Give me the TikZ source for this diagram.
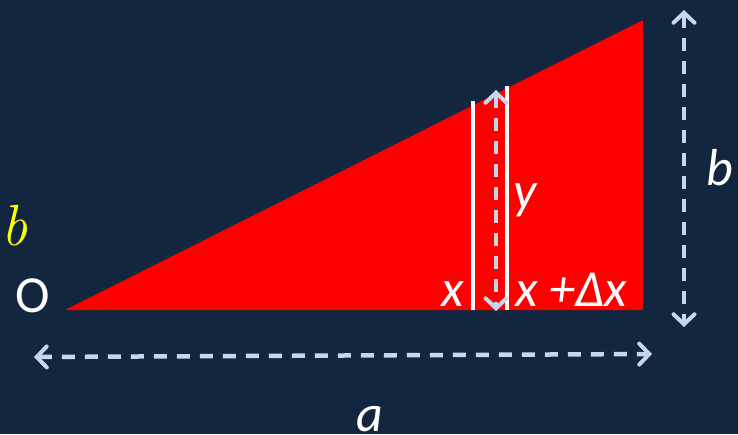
\documentclass[tikz,border=0pt]{standalone}
\usepackage{fontspec}
\newfontfamily\lblfont{Carlito}
\usetikzlibrary{arrows.meta}
\definecolor{bg}{HTML}{13263F}
\definecolor{dimc}{HTML}{C6D6EE}
\definecolor{tri}{HTML}{FF0000}
\definecolor{yel}{HTML}{FFFF00}
\tikzset{
  dimtip/.tip={Straight Barb[length=10pt,width=21pt,line width=4pt,line cap=round]},
  dimarrow/.style={draw=dimc, line width=4.5pt, dash pattern=on 13pt off 10pt, dimtip-dimtip},
  lbl/.style={text=white, inner sep=0pt, font=\fontsize{52}{54}\selectfont\lblfont\itshape},
  stripline/.style={draw=white, line width=3.5pt}
}
\begin{document}
\begin{tikzpicture}[x=1pt,y=-1pt]
\useasboundingbox (0,0) rectangle (738,434);
\fill[bg] (0,0) rectangle (738,434);
% triangle
\coordinate (O) at (65,310);
\coordinate (T) at (643,20);
\coordinate (R) at (643,310);
\fill[tri, rounded corners=2pt] (O) -- (T) -- (R) -- cycle;
% strip lines
\coordinate (l1t) at (473,101);
\coordinate (l1b) at (473,310);
\coordinate (l2t) at (507,86);
\coordinate (l2b) at (507,310);
\draw[stripline] (l1t) -- (l1b);
\draw[stripline] (l2t) -- (l2b);
% y arrow
\coordinate (yt) at (496,90);
\coordinate (yb) at (496,311);
\draw[dimarrow] (yt) -- (yb);
% b arrow
\coordinate (bt) at (684,10);
\coordinate (bb) at (684,327);
\draw[dimarrow] (bt) -- (bb);
% a arrow
\coordinate (al) at (34,357);
\coordinate (ar) at (652,354);
\draw[dimarrow] (al) -- (ar);
% labels
\node[lbl, font=\fontsize{52}{54}\selectfont\lblfont, anchor=base] (oLab) at (33,312) {O};
\node[lbl, anchor=base] (xLab) at (453,306) {x};
\node[lbl, anchor=base west] (xdx) at (515,306) {x +Δx};
\node[lbl, anchor=base] (yLab) at (525,208) {y};
\node[lbl, anchor=base] (bLab) at (720,185) {b};
\node[lbl, anchor=base] (aLab) at (370,431) {a};
\node[inner sep=0pt, text=yel, anchor=base west, font=\fontsize{58}{60}\selectfont\rmfamily\itshape] (yb2) at (1,245) {b};
\end{tikzpicture}
\end{document}
